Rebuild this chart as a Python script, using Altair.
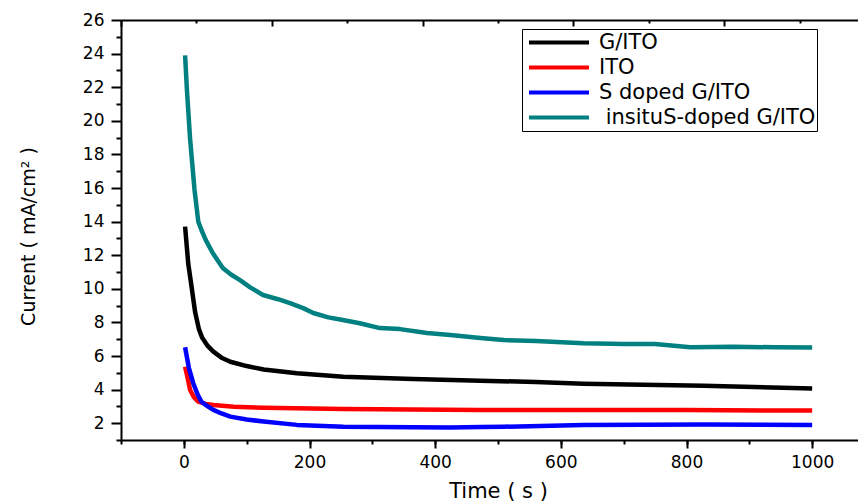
import altair as alt
import pandas as pd

# ---------------- data ----------------
SERIES = ["G/ITO", "ITO", "S doped G/ITO", "\u200b\u00a0insituS-doped G/ITO"]
COLORS = ["#000000", "#ff0000", "#0000ff", "#008080"]

g_ito_t = [2, 7, 12, 18, 24, 29, 38, 47, 60, 74, 100, 127, 180, 254, 365, 472, 560, 636, 827, 1000]
g_ito_v = [13.7, 11.5, 10.2, 8.6, 7.6, 7.1, 6.6, 6.26, 5.9, 5.66, 5.4, 5.2, 4.97, 4.77, 4.63, 4.53, 4.45, 4.35, 4.23, 4.07]

ito_t = [2, 6, 10, 16, 23, 35, 47, 80, 127, 254, 472, 636, 800, 1000]
ito_v = [5.36, 4.7, 3.98, 3.55, 3.28, 3.15, 3.08, 2.98, 2.92, 2.85, 2.79, 2.79, 2.78, 2.75]

s_doped_t = [2, 8, 15, 22, 28, 38, 47, 60, 74, 100, 127, 180, 254, 365, 424, 472, 509, 636, 827, 1000]
s_doped_v = [6.52, 5.3, 4.38, 3.7, 3.28, 3.0, 2.79, 2.58, 2.39, 2.22, 2.1, 1.9, 1.79, 1.76, 1.74, 1.77, 1.79, 1.89, 1.93, 1.89]

insitu_t = [2, 5, 10, 17, 23, 28, 35, 46, 62, 75, 90, 105, 126, 150, 169, 190, 206, 230, 253, 280,
            312, 344, 387, 424, 472, 509, 560, 636, 700, 750, 806, 874, 940, 1000]
insitu_v = [23.9, 21.8, 18.9, 15.9, 14.0, 13.5, 12.9, 12.13, 11.24, 10.85, 10.5, 10.1, 9.63, 9.38, 9.15, 8.85, 8.56, 8.3, 8.14, 7.95,
            7.66, 7.6, 7.37, 7.25, 7.07, 6.95, 6.9, 6.76, 6.72, 6.72, 6.52, 6.55, 6.52, 6.5]

# axis tick values
x_major = [0, 200, 400, 600, 800, 1000]
x_minor = list(range(-100, 1101, 100))
y_major = list(range(2, 27, 2))
y_minor = list(range(1, 26, 2))
top_major = [-100, 140, 380, 620, 860, 1100]
top_minor = [20, 260, 500, 740, 980]
right_ticks = [1, 6, 11, 16, 21, 26]

X_DOMAIN = [-100, 1100]
Y_DOMAIN = [1, 26]

rows = []
for name, ts, vs in zip(SERIES, [g_ito_t, ito_t, s_doped_t, insitu_t], [g_ito_v, ito_v, s_doped_v, insitu_v]):
    for i, (t, v) in enumerate(zip(ts, vs)):
        rows.append({"series": name, "time": t, "current": v, "idx": i})
df = pd.DataFrame(rows)
frame = pd.DataFrame({"time": X_DOMAIN, "current": Y_DOMAIN})

FONT = "DejaVu Sans"
W, H = 754, 420

xs = alt.Scale(domain=X_DOMAIN, nice=False, zero=False)
ys = alt.Scale(domain=Y_DOMAIN, nice=False, zero=False)

common = dict(domainColor="black", tickColor="black", domainWidth=2, tickWidth=2,
              grid=False, labelColor="black", labelFont=FONT)

lines = alt.Chart(df).mark_line(strokeWidth=4.5, strokeJoin="round").encode(
    x=alt.X("time:Q", scale=xs, axis=alt.Axis(
        orient="bottom", values=x_major, tickSize=8, labelFontSize=17, labelPadding=6,
        labelFlush=False, labelOverlap=False, format="d",
        title="Time ( s )", titleFont=FONT, titleFontSize=21, titleFontWeight="normal",
        titleColor="black", titleY=40, **common)),
    y=alt.Y("current:Q", scale=ys, axis=alt.Axis(
        orient="left", values=y_major, tickSize=10, labelFontSize=17, labelPadding=7,
        labelFlush=False, labelOverlap=False, format="d",
        title="Current ( mA/cm\u00b2 )", titleFont=FONT, titleFontSize=19, titleFontWeight="normal",
        titleColor="black", titleX=-83, titleY=216, **common)),
    color=alt.Color("series:N", scale=alt.Scale(domain=SERIES, range=COLORS),
                    legend=alt.Legend(title=None, orient="none", legendX=401, legendY=9,
                                      symbolType="stroke", symbolSize=3600, symbolStrokeWidth=4,
                                      clipHeight=25, rowPadding=0, padding=1, symbolOffset=4,
                                      strokeColor="black", labelFont=FONT, labelFontSize=21,
                                      labelColor="black", labelOffset=8, labelLimit=0)),
    detail="series:N",
    order="idx:Q",
)

minor = alt.Chart(frame).mark_point(opacity=0).encode(
    x=alt.X("time:Q", scale=xs, axis=alt.Axis(orient="bottom", values=x_minor, tickSize=4,
                                             labels=False, domain=False, title=None, **common)),
    y=alt.Y("current:Q", scale=ys, axis=alt.Axis(orient="left", values=y_minor, tickSize=5,
                                                labels=False, domain=False, title=None, **common)),
)

top = alt.Chart(frame).mark_point(opacity=0).encode(
    x=alt.X("time:Q", scale=xs, axis=alt.Axis(orient="bottom", offset=-H, values=top_major, tickSize=6,
                                             labels=False, title=None, **common)),
    y=alt.Y("current:Q", scale=ys, axis=alt.Axis(orient="left", offset=-W, values=right_ticks, tickSize=12,
                                                labels=False, title=None, **common)),
)

top_min = alt.Chart(frame).mark_point(opacity=0).encode(
    x=alt.X("time:Q", scale=xs, axis=alt.Axis(orient="bottom", offset=-H, values=top_minor, tickSize=3,
                                             labels=False, domain=False, title=None, **common)),
    y=alt.Y("current:Q", scale=ys, axis=None),
)

chart = alt.layer(lines, minor, top, top_min).resolve_axis(
    x="independent", y="independent"
).properties(
    width=W, height=H,
    padding={"left": 113, "top": 12, "right": -17, "bottom": 72},
    autosize=alt.AutoSizeParams(type="none"),
).configure_view(stroke=None).configure(background="white")

chart.save("out.html", embed_options={"renderer": "svg", "actions": False})
